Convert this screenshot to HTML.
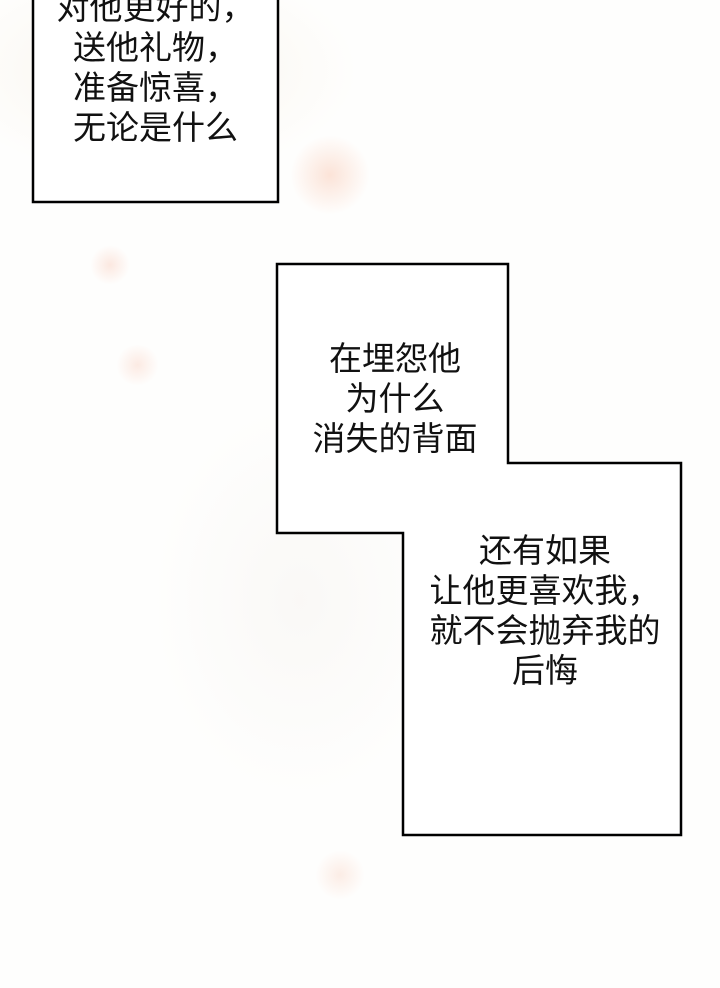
<!DOCTYPE html>
<html><head><meta charset="utf-8"><style>
html,body{margin:0;padding:0}
body{width:720px;height:988px;position:relative;overflow:hidden;background:#fefefd;font-family:"Liberation Sans","Noto Sans CJK SC",sans-serif;}
.spot{position:absolute;border-radius:50%;}
.t{position:absolute;font-size:33px;color:#111;text-align:center;white-space:nowrap;line-height:40px;}
</style></head><body>
<div class="spot" style="left:-60px;top:-40px;width:420px;height:220px;background:radial-gradient(ellipse,rgba(245,235,220,0.5),rgba(255,255,255,0) 70%)"></div>
<div class="spot" style="left:290px;top:135px;width:80px;height:80px;background:radial-gradient(circle,rgba(250,205,185,0.55),rgba(255,255,255,0) 70%)"></div>
<div class="spot" style="left:90px;top:245px;width:40px;height:40px;background:radial-gradient(circle,rgba(250,210,195,0.5),rgba(255,255,255,0) 70%)"></div>
<div class="spot" style="left:115px;top:345px;width:45px;height:40px;background:radial-gradient(circle,rgba(250,210,195,0.45),rgba(255,255,255,0) 70%)"></div>
<div class="spot" style="left:315px;top:850px;width:50px;height:50px;background:radial-gradient(circle,rgba(250,215,200,0.45),rgba(255,255,255,0) 70%)"></div>
<div class="spot" style="left:150px;top:400px;width:300px;height:400px;background:radial-gradient(ellipse,rgba(242,238,234,0.35),rgba(255,255,255,0) 70%)"></div>
<svg width="720" height="988" style="position:absolute;left:0;top:0">
<rect x="33" y="-10" width="245" height="212" fill="#fff" stroke="#000" stroke-width="2.5"/>
<polygon points="277,264 508,264 508,463 681,463 681,835 403,835 403,533 277,533" fill="#fff" stroke="#000" stroke-width="2.5"/>
</svg>
<div class="t" style="left:33px;width:245px;top:-12px">对他更好的，<br>送他礼物，<br>准备惊喜，<br>无论是什么</div>
<div class="t" style="left:277px;width:236px;top:339px">在埋怨他<br>为什么<br>消失的背面</div>
<div class="t" style="left:403px;width:284px;top:531px">还有如果<br>让他更喜欢我，<br>就不会抛弃我的<br>后悔</div>
</body></html>
